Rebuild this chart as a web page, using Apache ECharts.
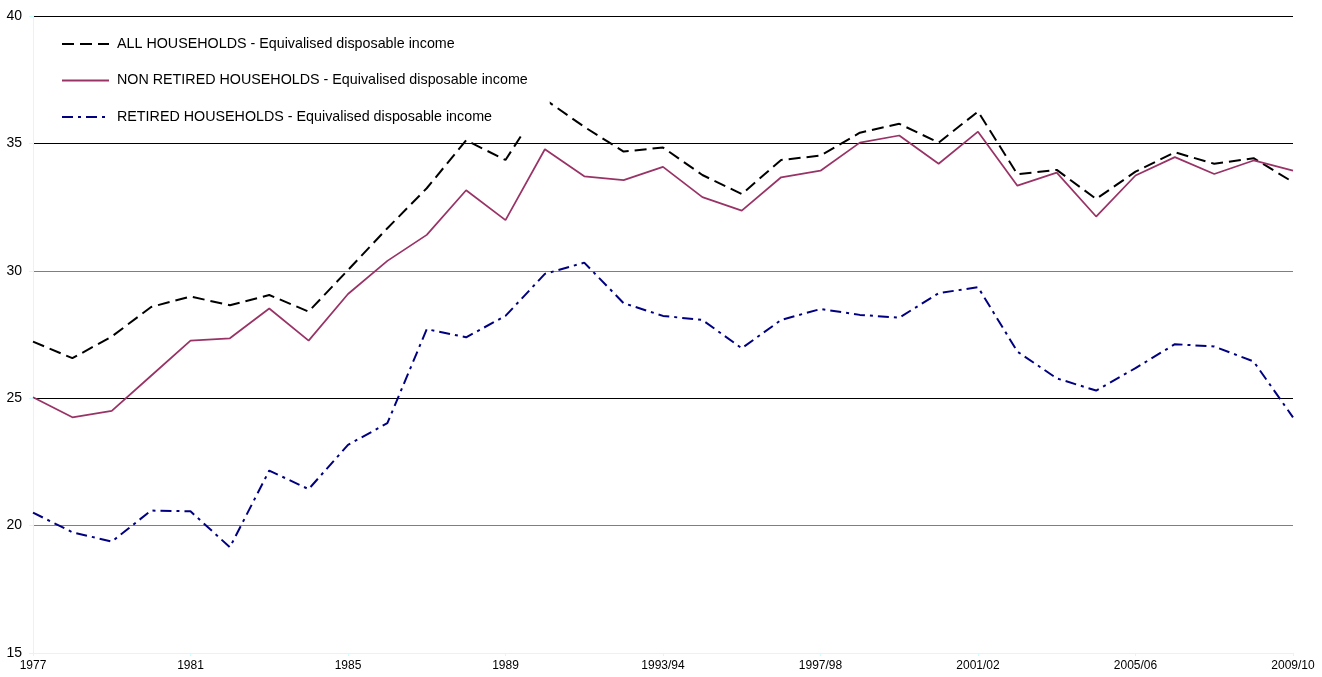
<!DOCTYPE html>
<html>
<head>
<meta charset="utf-8">
<script src="https://cdn.jsdelivr.net/npm/echarts@6/dist/echarts.min.js"></script>
<style>
  html, body { margin: 0; padding: 0; background: #fff; }
  #chart { width: 1322px; height: 677px; }
</style>
</head>
<body>
<div id="chart"></div>
<script>
// Financial years along the horizontal axis
const years = [
  '1977', '1978', '1979', '1980', '1981', '1982', '1983', '1984',
  '1985', '1986', '1987', '1988', '1989', '1990', '1991', '1992',
  '1993/94', '1994/95', '1995/96', '1996/97', '1997/98', '1998/99',
  '1999/00', '2000/01', '2001/02', '2002/03', '2003/04', '2004/05',
  '2005/06', '2006/07', '2007/08', '2008/09', '2009/10'
];

// Equivalised disposable income, by household type
const allHouseholds = [
  27.22, 26.57, 27.42, 28.58, 28.99, 28.65, 29.05, 28.40,
  30.03, 31.67, 33.24, 35.12, 34.35, 36.73, 35.65, 34.68,
  34.84, 33.76, 33.01, 34.35, 34.52, 35.42, 35.77, 35.03,
  36.25, 33.79, 33.96, 32.82, 33.89, 34.65, 34.20, 34.42, 33.48
];
const nonRetired = [
  25.04, 24.25, 24.50, 25.88, 27.26, 27.35, 28.52, 27.26,
  29.09, 30.39, 31.41, 33.16, 31.99, 34.77, 33.71, 33.56,
  34.08, 32.89, 32.36, 33.67, 33.93, 35.03, 35.31, 34.20,
  35.46, 33.34, 33.85, 32.13, 33.74, 34.46, 33.80, 34.33, 33.93
];
const retired = [
  20.51, 19.74, 19.37, 20.59, 20.56, 19.15, 22.16, 21.43,
  23.17, 24.02, 27.71, 27.39, 28.23, 29.88, 30.32, 28.73,
  28.23, 28.07, 26.96, 28.07, 28.50, 28.27, 28.16, 29.12,
  29.36, 26.83, 25.78, 25.30, 26.18, 27.12, 27.03, 26.44, 24.25
];

const seriesNames = [
  'ALL HOUSEHOLDS - Equivalised disposable income',
  'NON RETIRED HOUSEHOLDS - Equivalised disposable income',
  'RETIRED HOUSEHOLDS - Equivalised disposable income'
];

const FONT = "'Liberation Sans', Arial, sans-serif";
const AXIS_CYAN = '#ccffff';

const chart = echarts.init(document.getElementById('chart'), null, { renderer: 'canvas' });

chart.setOption({
  animation: false,
  backgroundColor: '#fff',
  textStyle: { fontFamily: FONT },
  grid: { left: 33, right: 29, top: 16, bottom: 24, containLabel: false },
  legend: {
    orient: 'vertical',
    left: 36,
    top: 21,
    padding: [15, 22, 11, 25],
    backgroundColor: '#fff',
    itemWidth: 47,
    itemHeight: 14,
    itemGap: 20.5,
    // line-only keys: the point marker is hidden
    itemStyle: { opacity: 0 },
    textStyle: { fontFamily: FONT, fontSize: 14.3, color: '#000', lineHeight: 16, padding: [0, 0, 0, 3] },
    data: seriesNames
  },
  xAxis: {
    type: 'category',
    data: years,
    boundaryGap: false,
    axisLine: { show: true, lineStyle: { color: AXIS_CYAN, width: 1 } },
    axisTick: { show: true, interval: 3, length: 3, lineStyle: { color: AXIS_CYAN } },
    axisLabel: {
      interval: 3, margin: 7, fontSize: 12, color: '#000', fontFamily: FONT,
      showMinLabel: true, showMaxLabel: true
    },
    splitLine: { show: false }
  },
  yAxis: {
    type: 'value',
    min: 15,
    max: 40,
    interval: 5,
    axisLine: { show: true, lineStyle: { color: AXIS_CYAN, width: 1 } },
    axisTick: { show: true, length: 4, lineStyle: { color: AXIS_CYAN } },
    axisLabel: { margin: 11, fontSize: 14, color: '#000', fontFamily: FONT },
    splitLine: {
      show: true,
      lineStyle: {
        width: 1,
        color: [AXIS_CYAN, '#7f7f7f', '#000', '#7f7f7f', '#000', '#000']
      }
    }
  },
  series: [
    {
      name: seriesNames[0],
      type: 'line',
      data: allHouseholds,
      symbol: 'none',
      lineStyle: { color: '#000', width: 2, type: [12, 6] },
      itemStyle: { color: '#000' }
    },
    {
      name: seriesNames[1],
      type: 'line',
      data: nonRetired,
      symbol: 'none',
      lineStyle: { color: '#993366', width: 1.75, type: 'solid' },
      itemStyle: { color: '#993366' }
    },
    {
      name: seriesNames[2],
      type: 'line',
      data: retired,
      symbol: 'none',
      lineStyle: { color: '#000080', width: 2, type: [11, 5, 3, 5] },
      itemStyle: { color: '#000080' }
    }
  ]
});
</script>
</body>
</html>
